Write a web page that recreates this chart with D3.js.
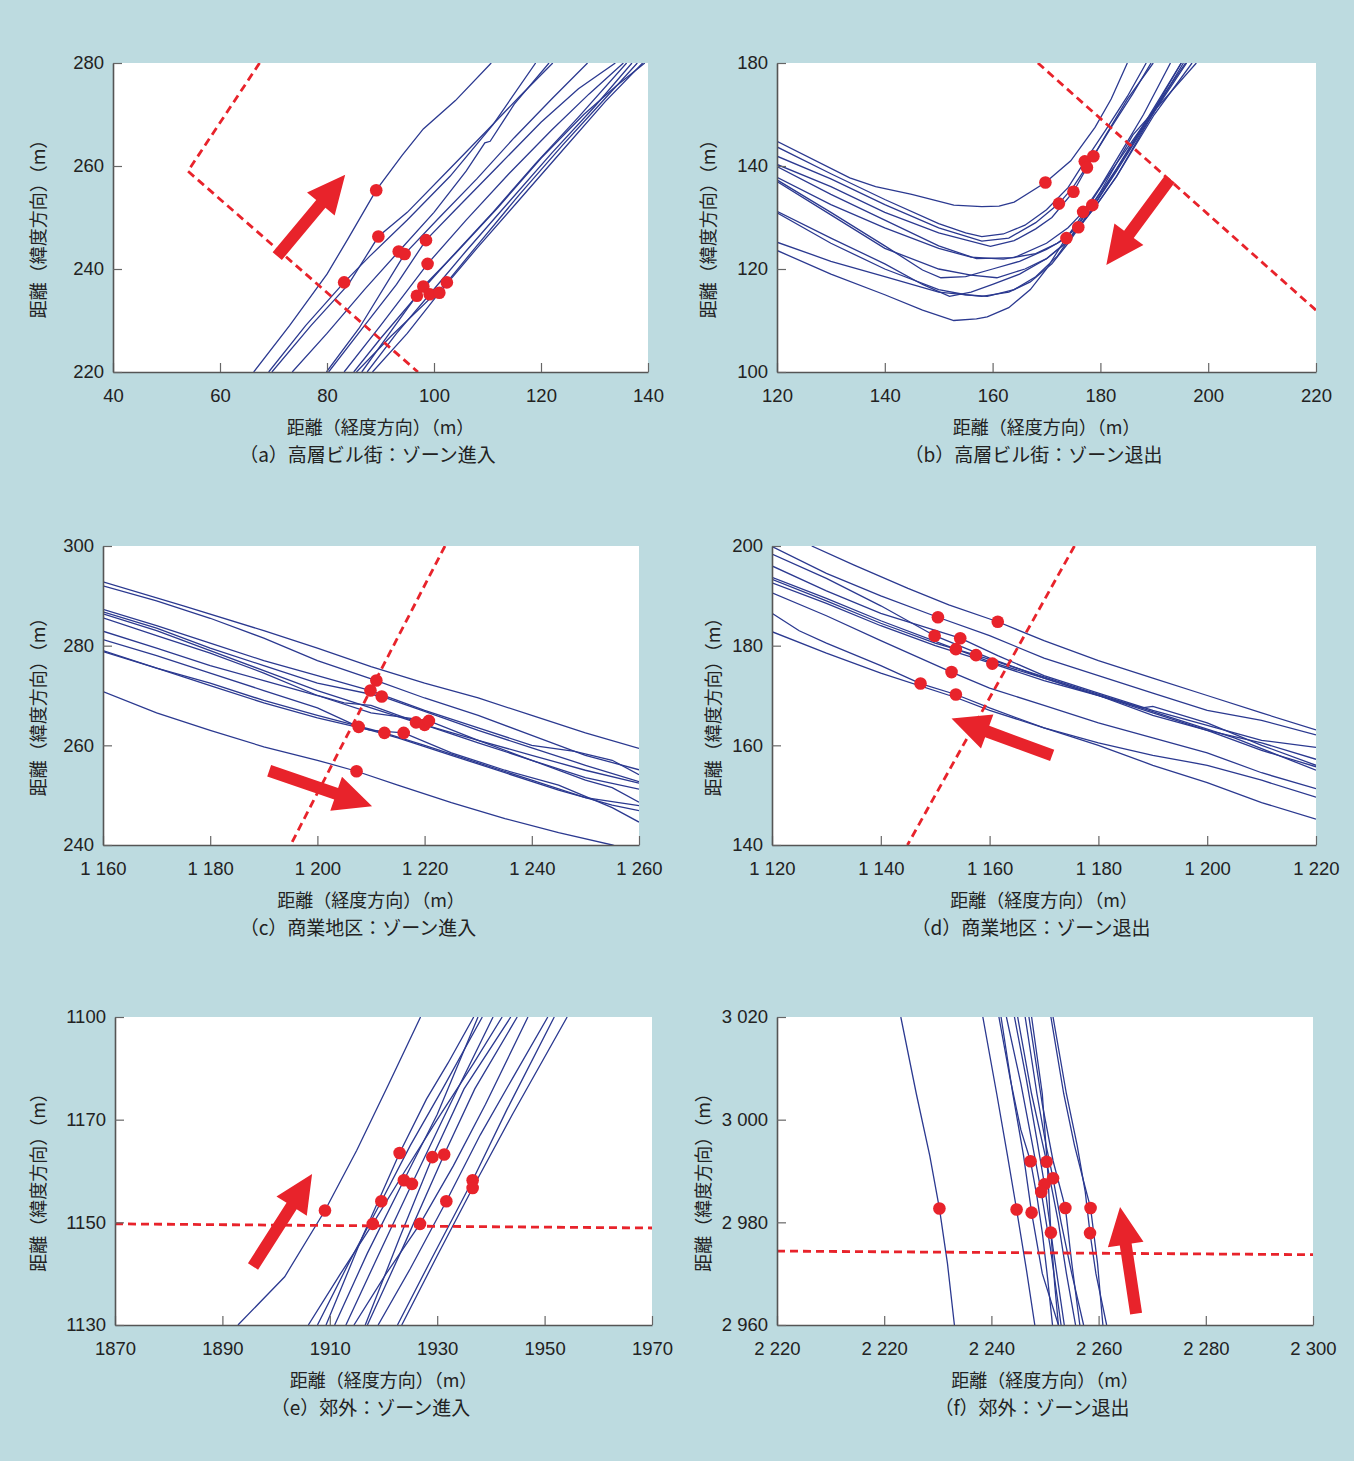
<!DOCTYPE html>
<html>
<head>
<meta charset="utf-8">
<script src="https://cdnjs.cloudflare.com/ajax/libs/d3/7.8.5/d3.min.js"></script>
<style>
body { margin: 0; background: #fff; }
</style>
</head>
<body>
<div id="chart"></div>
<script>
// ---- data ----

// (a) high-rise district, zone entry
var linesA = [
  [[66.3,220],[73,229],[80,239],[84,246],[89.2,255.3],[94,262],[98,267.2],[104,272.7],[110.7,280]],
  [[69.1,220],[76,229],[83.2,237.4],[88,242.5],[95,249.5],[103,258],[111,268],[119,280]],
  [[69.7,220],[77,229],[84,237],[89.6,246.3],[95,251],[103,259.5],[110,267],[116,273.5],[122.2,280]],
  [[73.5,220],[80,227.5],[87,236],[93.4,243.4],[100,251],[106,259],[109.5,264.5],[110.5,264.8],[115,272],[121.5,280]],
  [[79.9,220],[86,228.5],[94.5,242.9],[101,250],[108,257.5],[115,265.5],[122,273],[128.7,280]],
  [[80.3,220],[87,229],[93,237],[98.5,245.6],[104,251.5],[112,260],[120,268.5],[127,275],[133.9,280]],
  [[83.2,220],[90,229],[98.8,241],[106,249.5],[114,258.5],[122,267],[129,274],[135.4,280]],
  [[85.5,220],[92,227],[102.4,237.4],[108,244.5],[116,254.5],[124,264],[131,272],[138,280]],
  [[86.5,220],[92,228],[98,236.6],[104,243],[112,252],[120,261.5],[128,270],[134,275.5],[139.4,280]],
  [[85,220],[90,226.5],[96.8,234.8],[103,242],[111,251],[119,260.5],[127,269.5],[136,280]],
  [[87.5,220],[93,227.5],[99.2,235.1],[106,243.5],[114,253],[122,262.5],[130,271.5],[137,280]],
  [[88.5,220],[95,227.5],[101,235.4],[108,244],[116,253.5],[124,263],[132,272.5],[139,280]]
];
var dotsA = [[89.2,255.3],[89.6,246.3],[93.4,243.4],[94.5,242.9],[98.5,245.6],[98.8,241],
             [83.2,237.4],[102.4,237.4],[98,236.6],[96.8,234.8],[99.2,235.1],[101,235.4]];
var boundaryA = [[67.4,280],[54,259],[97,220]];
var arrowA = [[70.7,242.5],[83.4,258.3]];
var xTicksA = [40,60,80,100,120,140];
var xLabelsA = ["40","60","80","100","120","140"];
var yTicksA = [220,240,260,280];
var yLabelsA = ["220","240","260","280"];

// (b) high-rise district, zone exit
var linesB = [
  [[120,144.8],[133.5,137.7],[138.3,136],[145,134.5],[152.8,132.4],[158,132.1],[161.2,132.2],[164,133],[169.8,136.8],[174.5,141],[179,147.5],[182,153],[185,160]],
  [[120,143.7],[130,138.5],[140,133.5],[150,128.8],[155,127],[158,126.3],[162,126.8],[166,128.5],[170,131.5],[174,135.8],[177.1,140.9],[181,147],[185,153.5],[188.5,160]],
  [[120,141.9],[130,137.5],[140,132.5],[150,128],[158,125.4],[163,126],[168,129],[172.3,132.7],[175,136],[178.7,141.9],[182,147.5],[186,154],[189.4,160]],
  [[120,140.3],[130,136],[140,131],[150,127],[159.6,124.4],[164,125.5],[168,127.8],[171,130],[175,135],[177.5,139.7],[181,146],[185,153],[189.8,160]],
  [[120,139.9],[130,134.5],[140,129.5],[150,124.5],[157,122],[164,122.2],[170,125],[174,128],[176.8,131.1],[180,136],[184,143],[188,150],[193,160]],
  [[120,137.8],[130,132.5],[140,128],[150,124],[156,122.3],[162,121.9],[168,123],[172,125],[175.9,128.1],[179,132],[183,138],[188,147],[195.4,160]],
  [[120,137.3],[130,131],[140,124.5],[147,119.8],[150.4,118.3],[155,118.5],[160,120],[165,121.5],[170,123.8],[173.7,126],[178.5,132.4],[183,139.5],[188,148],[195.8,160]],
  [[120,137],[130,130.5],[140,124],[150,120],[156,118.8],[160.8,118.3],[166,120],[170,122],[173,124.5],[176,128],[179,132],[183,138],[190,150],[197,160]],
  [[120,131.2],[130,126],[140,121],[147,117],[152,114.7],[156,115.5],[160,117],[165,119],[170,122],[174,125.5],[178,131],[184,141],[190,151],[195,160]],
  [[120,130.9],[130,125],[140,120],[150,116],[155,115],[159,114.7],[164,116],[168,118.5],[172,122.5],[175,127],[180,135],[186,146],[197.8,160]],
  [[120,125.2],[130,121.5],[140,118.5],[150,115.5],[158,114.7],[163,115.5],[167,117.5],[171,121],[174,125],[178,131],[183,139],[189,149],[196,160]],
  [[120,123.6],[130,119],[140,115],[147,112],[152.8,110],[157,110.3],[159,110.7],[163,112.5],[167,116],[170,120],[173,125],[177,131],[182,139],[188,148],[195,160]]
];
var dotsB = [[169.8,136.8],[172.3,132.7],[175,135],[177.1,140.9],[177.5,139.7],[178.7,141.9],
             [176.8,131.1],[178.5,132.4],[175.9,128.1],[173.7,126]];
var boundaryB = [[168.4,160],[220,112]];
var arrowB = [[192.9,137.5],[181.1,120.8]];
var xTicksB = [120,140,160,180,200,220];
var xLabelsB = ["120","140","160","180","200","220"];
var yTicksB = [100,120,140,160];
var yLabelsB = ["100","120","140","180"];

// (c) commercial district, zone entry
var linesC = [
  [[1160,292.8],[1175,288],[1190,283],[1200,279.5],[1210,275.8],[1220,272.5],[1230,269.5],[1240,266],[1250,262.5],[1260,259.4]],
  [[1160,292],[1170,289],[1180,285.5],[1190,281.5],[1200,277],[1211,273],[1220,269.5],[1230,266],[1240,262],[1250,258],[1260,255.1]],
  [[1160,287.3],[1170,284],[1180,280.5],[1190,277],[1200,274],[1209.9,271],[1220,267],[1230,263.5],[1240,260],[1248,258.8],[1255,257],[1260,254.1]],
  [[1160,286.8],[1170,283.5],[1180,279.5],[1190,276],[1200,272.5],[1212,269.8],[1220,266.8],[1230,263],[1240,259.5],[1250,256],[1260,252.7]],
  [[1160,286.4],[1170,283],[1180,279],[1190,275],[1200,271],[1210,267.5],[1218.4,264.6],[1230,261],[1240,258],[1250,255],[1260,252.4]],
  [[1160,285.6],[1170,282],[1180,278.5],[1190,274.5],[1200,270],[1205,268.5],[1210,268],[1220,264.1],[1230,260.5],[1240,257],[1250,253.5],[1260,251.2]],
  [[1160,282.9],[1170,279.5],[1180,276],[1190,273],[1200,270],[1210,266.5],[1220.8,264.9],[1230,261],[1240,257],[1250,253],[1255,251.5],[1260,248.6]],
  [[1160,281.2],[1170,278],[1180,274.5],[1190,271],[1200,267.5],[1207.7,263.7],[1215,261.5],[1225,258],[1235,254.5],[1245,251],[1255,248],[1260,246.9]],
  [[1160,279],[1170,275.5],[1180,272.5],[1190,269],[1200,266],[1212.5,262.5],[1220,260],[1230,256.5],[1240,253],[1250,249.5],[1260,247.9]],
  [[1160,278.8],[1170,275.5],[1180,272],[1190,268.5],[1200,265.5],[1210,263],[1216.1,262.5],[1225,258.5],[1235,255],[1245,252],[1255,247.5],[1260,244.6]],
  [[1160,270.8],[1170,266.5],[1180,263],[1190,259.7],[1200,257],[1207.3,254.8],[1215,252],[1225,248.5],[1235,245.3],[1245,242.5],[1255,240],[1260,238.5]]
];
var dotsC = [[1211,273],[1209.9,271],[1212,269.8],[1207.7,263.7],[1212.5,262.5],[1216.1,262.5],
             [1218.4,264.6],[1220,264.1],[1220.8,264.9],[1207.3,254.8]];
var boundaryC = [[1223.8,300],[1195,240]];
var arrowC = [[1191,254.9],[1210.2,247.8]];
var xTicksC = [1160,1180,1200,1220,1240,1260];
var xLabelsC = ["1 160","1 180","1 200","1 220","1 240","1 260"];
var yTicksC = [240,260,280,300];
var yLabelsC = ["240","260","280","300"];

// (d) commercial district, zone exit
var linesD = [
  [[1127.3,200],[1135,196.2],[1145,191.5],[1152.5,188.2],[1161.5,184.8],[1170,181],[1180,177],[1190,173.5],[1200,170],[1210,166.5],[1220,163.1]],
  [[1120,199.9],[1130,194.5],[1140,190],[1150.5,185.7],[1160,182],[1170,177.5],[1180,174],[1190,170.5],[1200,167],[1210,165],[1220,162.1]],
  [[1120,198.4],[1130,193.5],[1140,188],[1149.9,182],[1160,177.5],[1170,173.5],[1180,170],[1190,166],[1200,163],[1210,160.5],[1220,157.2]],
  [[1120,196],[1130,191],[1140,186.5],[1154.6,181.5],[1161.5,178],[1170,174],[1180,170.5],[1190,167],[1200,164],[1210,161],[1220,159.6]],
  [[1120,193.7],[1130,189.5],[1140,185],[1153.8,179.3],[1160,176.8],[1170,173.5],[1180,170],[1190,166.5],[1200,163],[1210,159],[1220,155.7]],
  [[1120,193.3],[1130,189],[1140,184.5],[1150,180.5],[1157.5,178.1],[1165,175.5],[1175,172],[1185,168.5],[1195,165],[1205,161.5],[1220,155]],
  [[1120,192.6],[1130,188.5],[1140,184],[1150,180],[1160.5,176.4],[1170,173],[1180,170],[1188,167.5],[1190,167.8],[1200,164.5],[1210,160],[1220,156]],
  [[1120,190.6],[1130,186],[1140,181],[1153,174.7],[1160,171.5],[1170,168],[1180,164.5],[1190,161.5],[1200,158.5],[1210,154.5],[1220,151.3]],
  [[1120,186.5],[1125,183],[1130,180.5],[1140,176],[1147.3,172.4],[1153.8,170.2],[1160,167.5],[1170,163.5],[1180,160.5],[1190,158],[1200,156],[1210,153],[1220,149.6]],
  [[1120,182.8],[1130,178.5],[1140,174.5],[1153.8,169.6],[1160,167],[1170,163.5],[1180,160],[1190,156],[1200,152.5],[1210,148.5],[1220,145.2]]
];
var dotsD = [[1150.5,185.7],[1161.5,184.8],[1149.9,182],[1154.6,181.5],[1153.8,179.3],[1157.5,178.1],
             [1160.5,176.4],[1153,174.7],[1147.3,172.4],[1153.8,170.2]];
var boundaryD = [[1175.6,200],[1144.9,140]];
var arrowD = [[1171.5,158],[1153,165.4]];
var xTicksD = [1120,1140,1160,1180,1200,1220];
var xLabelsD = ["1 120","1 140","1 160","1 180","1 200","1 220"];
var yTicksD = [140,160,180,200];
var yLabelsD = ["140","160","180","200"];

// (e) suburb, zone entry
var linesE = [
  [[1892.9,1130],[1901.6,1139.4],[1909.1,1152.3],[1915,1164],[1921,1177],[1926.9,1190]],
  [[1906,1130],[1912,1140],[1918,1149.7],[1924,1160],[1930,1170],[1936.8,1181],[1942.1,1190]],
  [[1907.7,1130],[1913.5,1142],[1919.6,1154.1],[1925,1165],[1931,1176],[1938.4,1190]],
  [[1909.3,1130],[1916,1147],[1923,1163.5],[1928,1174],[1932,1181],[1936.8,1190]],
  [[1910.9,1130],[1917,1144],[1923.8,1158.2],[1930,1171],[1937.6,1190]],
  [[1913,1130],[1919,1143.5],[1925.3,1157.5],[1931,1170],[1940.4,1190]],
  [[1914.5,1130],[1920.5,1140],[1926.8,1149.7],[1933,1161],[1939,1173],[1946.9,1190]],
  [[1916.6,1130],[1923,1147],[1929.1,1162.7],[1935,1176],[1943.7,1190]],
  [[1917,1130],[1924,1146],[1931.3,1163.2],[1937,1176],[1944.9,1190]],
  [[1919,1130],[1925,1141],[1931.7,1154.1],[1938,1167],[1944,1178],[1950.6,1190]],
  [[1922.6,1130],[1929,1143],[1936.6,1158.2],[1943,1172],[1951.8,1190]],
  [[1923.4,1130],[1930,1143.5],[1936.6,1156.7],[1944,1171],[1954.2,1190]]
];
var dotsE = [[1909.1,1152.3],[1918,1149.7],[1919.6,1154.1],[1923,1163.5],[1923.8,1158.2],[1925.3,1157.5],
             [1926.8,1149.7],[1929.1,1162.7],[1931.3,1163.2],[1931.7,1154.1],[1936.6,1158.2],[1936.6,1156.7]];
var boundaryE = [[1870,1149.7],[1970,1148.9]];
var arrowE = [[1895.7,1141.4],[1906.7,1159.4]];
var xTicksE = [1870,1890,1910,1930,1950,1970];
var xLabelsE = ["1870","1890","1910","1930","1950","1970"];
var yTicksE = [1130,1150,1170,1190];
var yLabelsE = ["1130","1150","1170","1100"];

// (f) suburb, zone exit
var linesF = [
  [[2223.1,3020],[2226,3005],[2228.5,2993],[2230.3,2982.7],[2231.8,2972],[2233.1,2960]],
  [[2238.4,3020],[2241,3005],[2243,2993],[2244.7,2982.5],[2246.5,2971],[2248.1,2960]],
  [[2241.4,3020],[2243.5,3008],[2245.5,2998],[2247.3,2991.9],[2248.5,2985],[2249.5,2978],[2250.5,2969],[2251.4,2960]],
  [[2241.8,3020],[2244,3005],[2246,2993],[2247.5,2981.9],[2249.5,2970],[2252.5,2960]],
  [[2242.8,3020],[2245.5,3007],[2247.5,2996],[2249.3,2985.9],[2251,2975],[2253,2960]],
  [[2244.3,3020],[2246.5,3008],[2248.5,2996],[2249.9,2987.4],[2251.5,2975],[2253.6,2960]],
  [[2244.9,3020],[2247.5,3005],[2250.3,2991.8],[2252.5,2980],[2254,2970],[2255.7,2960]],
  [[2246.3,3020],[2248.5,3005],[2250.2,2995],[2251.5,2988.6],[2253,2980],[2255,2970],[2257.2,2960]],
  [[2247.5,3020],[2249.5,3005],[2250.5,2990],[2251.1,2978],[2251.8,2968],[2252.5,2960]],
  [[2247,3020],[2249.5,3003],[2251.5,2992],[2253.8,2982.8],[2255,2972],[2256.5,2960]],
  [[2251.1,3020],[2253.5,3005],[2255.5,2995],[2257.2,2988],[2258.5,2982.8],[2259.8,2972],[2260.8,2960]],
  [[2251.5,3020],[2254,3005],[2256,2995],[2257.5,2986],[2258.4,2977.9],[2259.5,2970],[2261.5,2960]]
];
var dotsF = [[2230.3,2982.7],[2244.7,2982.5],[2247.5,2981.9],[2247.3,2991.9],[2250.3,2991.8],[2251.5,2988.6],
             [2249.9,2987.4],[2249.3,2985.9],[2253.8,2982.8],[2258.5,2982.8],[2251.1,2978],[2258.4,2977.9]];
var boundaryF = [[2200,2974.4],[2300,2973.7]];
var arrowF = [[2267,2962.2],[2264,2983]];
var xTicksF = [2200,2220,2240,2260,2280,2300];
var xLabelsF = ["2 220","2 220","2 240","2 260","2 280","2 300"];
var yTicksF = [2960,2980,3000,3020];
var yLabelsF = ["2 960","2 980","3 000","3 020"];

var xTitle = "距離（経度方向）（m）";
var yTitle = "距離（緯度方向）（m）";

// ---- layout ----
var W = 1360, H = 1461;
var lineColor = "#2b3990", red = "#e8232b", textColor = "#222";
var tickFont = "'Liberation Sans', Arial, sans-serif";
var jpFont = "'Noto Sans CJK JP', 'Noto Sans', sans-serif";

var panels = [
  {id: "a", box: [113, 63, 648, 372], xd: [40, 140], yd: [220, 280], lines: linesA, dots: dotsA, boundary: boundaryA, arrow: arrowA,
   xt: xTicksA, xl: xLabelsA, yt: yTicksA, yl: yLabelsA, ytx: 38, caption: "（a）高層ビル街：ゾーン進入"},
  {id: "b", box: [777, 63, 1316, 372], xd: [120, 220], yd: [100, 160], lines: linesB, dots: dotsB, boundary: boundaryB, arrow: arrowB,
   xt: xTicksB, xl: xLabelsB, yt: yTicksB, yl: yLabelsB, ytx: 708, caption: "（b）高層ビル街：ゾーン退出"},
  {id: "c", box: [103, 546, 639, 845], xd: [1160, 1260], yd: [240, 300], lines: linesC, dots: dotsC, boundary: boundaryC, arrow: arrowC,
   xt: xTicksC, xl: xLabelsC, yt: yTicksC, yl: yLabelsC, ytx: 38, caption: "（c）商業地区：ゾーン進入"},
  {id: "d", box: [772, 546, 1316, 845], xd: [1120, 1220], yd: [140, 200], lines: linesD, dots: dotsD, boundary: boundaryD, arrow: arrowD,
   xt: xTicksD, xl: xLabelsD, yt: yTicksD, yl: yLabelsD, ytx: 713, caption: "（d）商業地区：ゾーン退出"},
  {id: "e", box: [115, 1017, 652, 1325], xd: [1870, 1970], yd: [1130, 1190], lines: linesE, dots: dotsE, boundary: boundaryE, arrow: arrowE,
   xt: xTicksE, xl: xLabelsE, yt: yTicksE, yl: yLabelsE, ytx: 38, caption: "（e）郊外：ゾーン進入"},
  {id: "f", box: [777, 1017, 1313, 1325], xd: [2200, 2300], yd: [2960, 3020], lines: linesF, dots: dotsF, boundary: boundaryF, arrow: arrowF,
   xt: xTicksF, xl: xLabelsF, yt: yTicksF, yl: yLabelsF, ytx: 703, caption: "（f）郊外：ゾーン退出"}
];

var svg = d3.select("#chart").append("svg")
    .attr("width", W)
    .attr("height", H);

svg.append("rect")
    .attr("width", 1354)
    .attr("height", H)
    .attr("fill", "#bddbe0");

// arrow outline in pixel space, built from tail and tip
function arrowPath(t, h) {
  var dx = h[0] - t[0], dy = h[1] - t[1];
  var len = Math.sqrt(dx * dx + dy * dy);
  var ux = dx / len, uy = dy / len, nx = -uy, ny = ux;
  var headLen = 38, headW = 18, shaftW = 6;
  var bx = h[0] - ux * headLen, by = h[1] - uy * headLen;
  var pts = [
    [t[0] + nx * shaftW, t[1] + ny * shaftW],
    [bx + nx * shaftW, by + ny * shaftW],
    [bx + nx * headW, by + ny * headW],
    h,
    [bx - nx * headW, by - ny * headW],
    [bx - nx * shaftW, by - ny * shaftW],
    [t[0] - nx * shaftW, t[1] - ny * shaftW]
  ];
  return "M" + pts.map(function(p) { return p[0] + "," + p[1]; }).join("L") + "Z";
}

panels.forEach(function(p) {
  var x0 = p.box[0], y0 = p.box[1], x1 = p.box[2], y1 = p.box[3];
  var x = d3.scaleLinear().domain(p.xd).range([x0, x1]);
  var y = d3.scaleLinear().domain(p.yd).range([y1, y0]);
  var g = svg.append("g");

  g.append("rect")
      .attr("x", x0).attr("y", y0)
      .attr("width", x1 - x0).attr("height", y1 - y0)
      .attr("fill", "#fff");

  g.append("clipPath")
      .attr("id", "clip-" + p.id)
    .append("rect")
      .attr("x", x0).attr("y", y0)
      .attr("width", x1 - x0).attr("height", y1 - y0);

  var plot = g.append("g").attr("clip-path", "url(#clip-" + p.id + ")");
  var line = d3.line()
      .x(function(d) { return x(d[0]); })
      .y(function(d) { return y(d[1]); });

  plot.selectAll(".traj")
    .data(p.lines)
    .enter()
    .append("path")
      .attr("class", "traj")
      .attr("d", line)
      .attr("fill", "none")
      .attr("stroke", lineColor)
      .attr("stroke-width", 1.3);

  plot.append("path")
      .datum(p.boundary)
      .attr("d", line)
      .attr("fill", "none")
      .attr("stroke", red)
      .attr("stroke-width", 2.8)
      .attr("stroke-dasharray", "8,5");

  plot.append("path")
      .attr("d", arrowPath([x(p.arrow[0][0]), y(p.arrow[0][1])], [x(p.arrow[1][0]), y(p.arrow[1][1])]))
      .attr("fill", red);

  plot.selectAll(".dot")
    .data(p.dots)
    .enter()
    .append("circle")
      .attr("class", "dot")
      .attr("cx", function(d) { return x(d[0]); })
      .attr("cy", function(d) { return y(d[1]); })
      .attr("r", 6.3)
      .attr("fill", red);

  // axes, ticks pointing inward
  var xAxis = d3.axisBottom(x)
      .tickValues(p.xt)
      .tickFormat(function(d, i) { return p.xl[i]; })
      .tickSizeInner(-9).tickSizeOuter(0).tickPadding(17);
  var yAxis = d3.axisLeft(y)
      .tickValues(p.yt)
      .tickFormat(function(d, i) { return p.yl[i]; })
      .tickSizeInner(-9).tickSizeOuter(0).tickPadding(9);

  var gx = g.append("g").attr("transform", "translate(0," + y1 + ")").call(xAxis);
  var gy = g.append("g").attr("transform", "translate(" + x0 + ",0)").call(yAxis);
  [gx, gy].forEach(function(a) {
    a.select(".domain").attr("stroke", "#555").attr("stroke-width", 1.6);
    a.selectAll(".tick line").attr("stroke", "#666").attr("stroke-width", 1.2);
    a.selectAll(".tick text")
        .attr("fill", textColor)
        .style("font-family", tickFont)
        .style("font-size", "18.5px");
  });

  var cx = (x0 + x1) / 2;
  g.append("text")
      .text(xTitle)
      .attr("x", cx)
      .attr("y", y1 + 62)
      .attr("text-anchor", "middle")
      .attr("fill", textColor)
      .style("font-family", jpFont)
      .style("font-size", "18px");

  g.append("text")
      .text(p.caption)
      .attr("x", cx - 13)
      .attr("y", y1 + 90)
      .attr("text-anchor", "middle")
      .attr("fill", textColor)
      .style("font-family", jpFont)
      .style("font-size", "19px");

  g.append("text")
      .text(yTitle)
      .attr("transform", "translate(" + (p.ytx + 7) + "," + ((y0 + y1) / 2 + 7) + ") rotate(-90)")
      .attr("text-anchor", "middle")
      .attr("fill", textColor)
      .style("font-family", jpFont)
      .style("font-size", "18px");
});
</script>
</body>
</html>
